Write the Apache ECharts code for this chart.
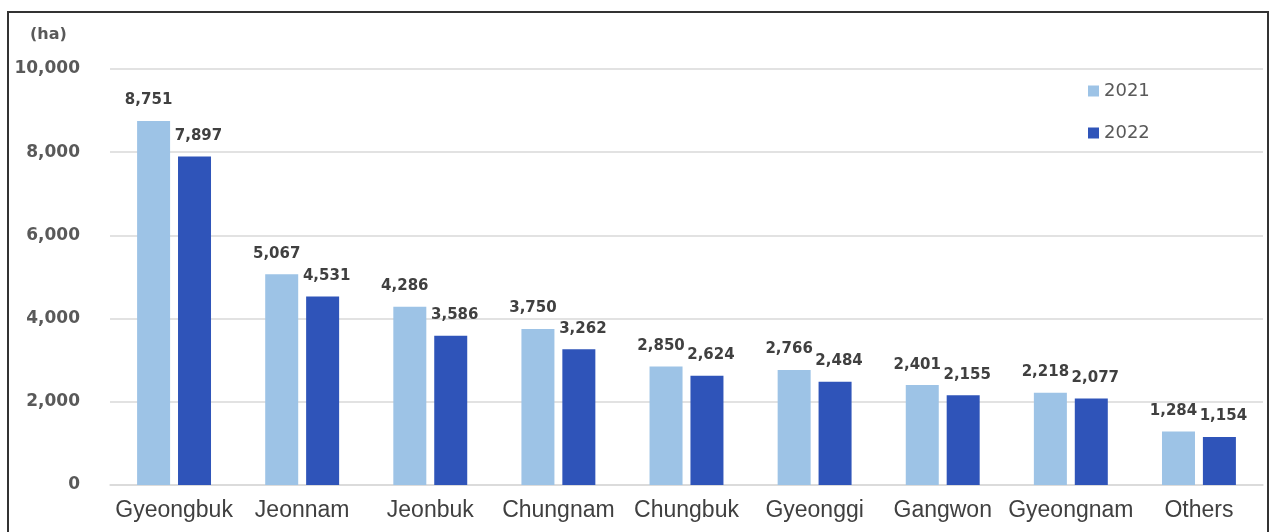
<!DOCTYPE html>
<html>
<head>
<meta charset="utf-8">
<script src="https://cdn.jsdelivr.net/npm/echarts@6/dist/echarts.min.js"></script>
<style>
html,body{margin:0;padding:0;background:#fff;}
#c{width:1273px;height:532px;}
</style>
</head>
<body>
<div id="c"></div>
<script>
const categories = ['Gyeongbuk','Jeonnam','Jeonbuk','Chungnam','Chungbuk','Gyeonggi','Gangwon','Gyeongnam','Others'];
const series2021 = [8751,5067,4286,3750,2850,2766,2401,2218,1284];
const series2022 = [7897,4531,3586,3262,2624,2484,2155,2077,1154];
const seriesNames = ['2021','2022'];
const unitLabel = '(ha)';

const chart = echarts.init(document.getElementById('c'));
function labelStyle(dx) {
  return {
    show: true, position: 'top', distance: 13, offset: [dx, 0],
    fontFamily: 'DejaVu Sans', fontWeight: 'bold', fontSize: 15, color: '#404040',
    formatter: p => p.value.toLocaleString('en-US')
  };
}
chart.setOption({
  animation: false,
  graphic: [
    {type:'rect', shape:{x:8,y:12,width:1260,height:530}, style:{fill:'none', stroke:'#333', lineWidth:2}, z:-1},
    {type:'text', left:30, top:27, style:{text:unitLabel, fontFamily:'DejaVu Sans', fontWeight:'bold', fontSize:16, fill:'#595959'}}
  ],
  legend: {
    orient:'vertical', left:1083, top:77, itemGap:24,
    itemWidth:11, itemHeight:11, icon:'rect',
    textStyle:{fontFamily:'DejaVu Sans', fontSize:18, color:'#595959'},
    data: seriesNames
  },
  grid: {left:110, right:10, top:69, bottom:47, containLabel:false},
  xAxis: {
    type:'category', data: categories,
    axisLine:{lineStyle:{color:'#d9d9d9', width:1.5}}, axisTick:{show:false},
    axisLabel:{fontFamily:'Liberation Sans', fontSize:23, color:'#404040', margin:14, interval:0}
  },
  yAxis: {
    type:'value', min:0, max:10000, interval:2000,
    splitLine:{lineStyle:{color:'#d9d9d9', width:1.5}},
    axisLabel:{fontFamily:'DejaVu Sans', fontWeight:'bold', fontSize:17, color:'#595959', margin:30,
      formatter: v => v.toLocaleString('en-US')}
  },
  series: [
    {name:seriesNames[0], type:'bar', data:series2021, barWidth:33, barGap:'24%', itemStyle:{color:'#9DC3E6'}, label:labelStyle(-5)},
    {name:seriesNames[1], type:'bar', data:series2022, barWidth:33, barGap:'24%', itemStyle:{color:'#2F54B9'}, label:labelStyle(4)}
  ]
});
</script>
</body>
</html>
